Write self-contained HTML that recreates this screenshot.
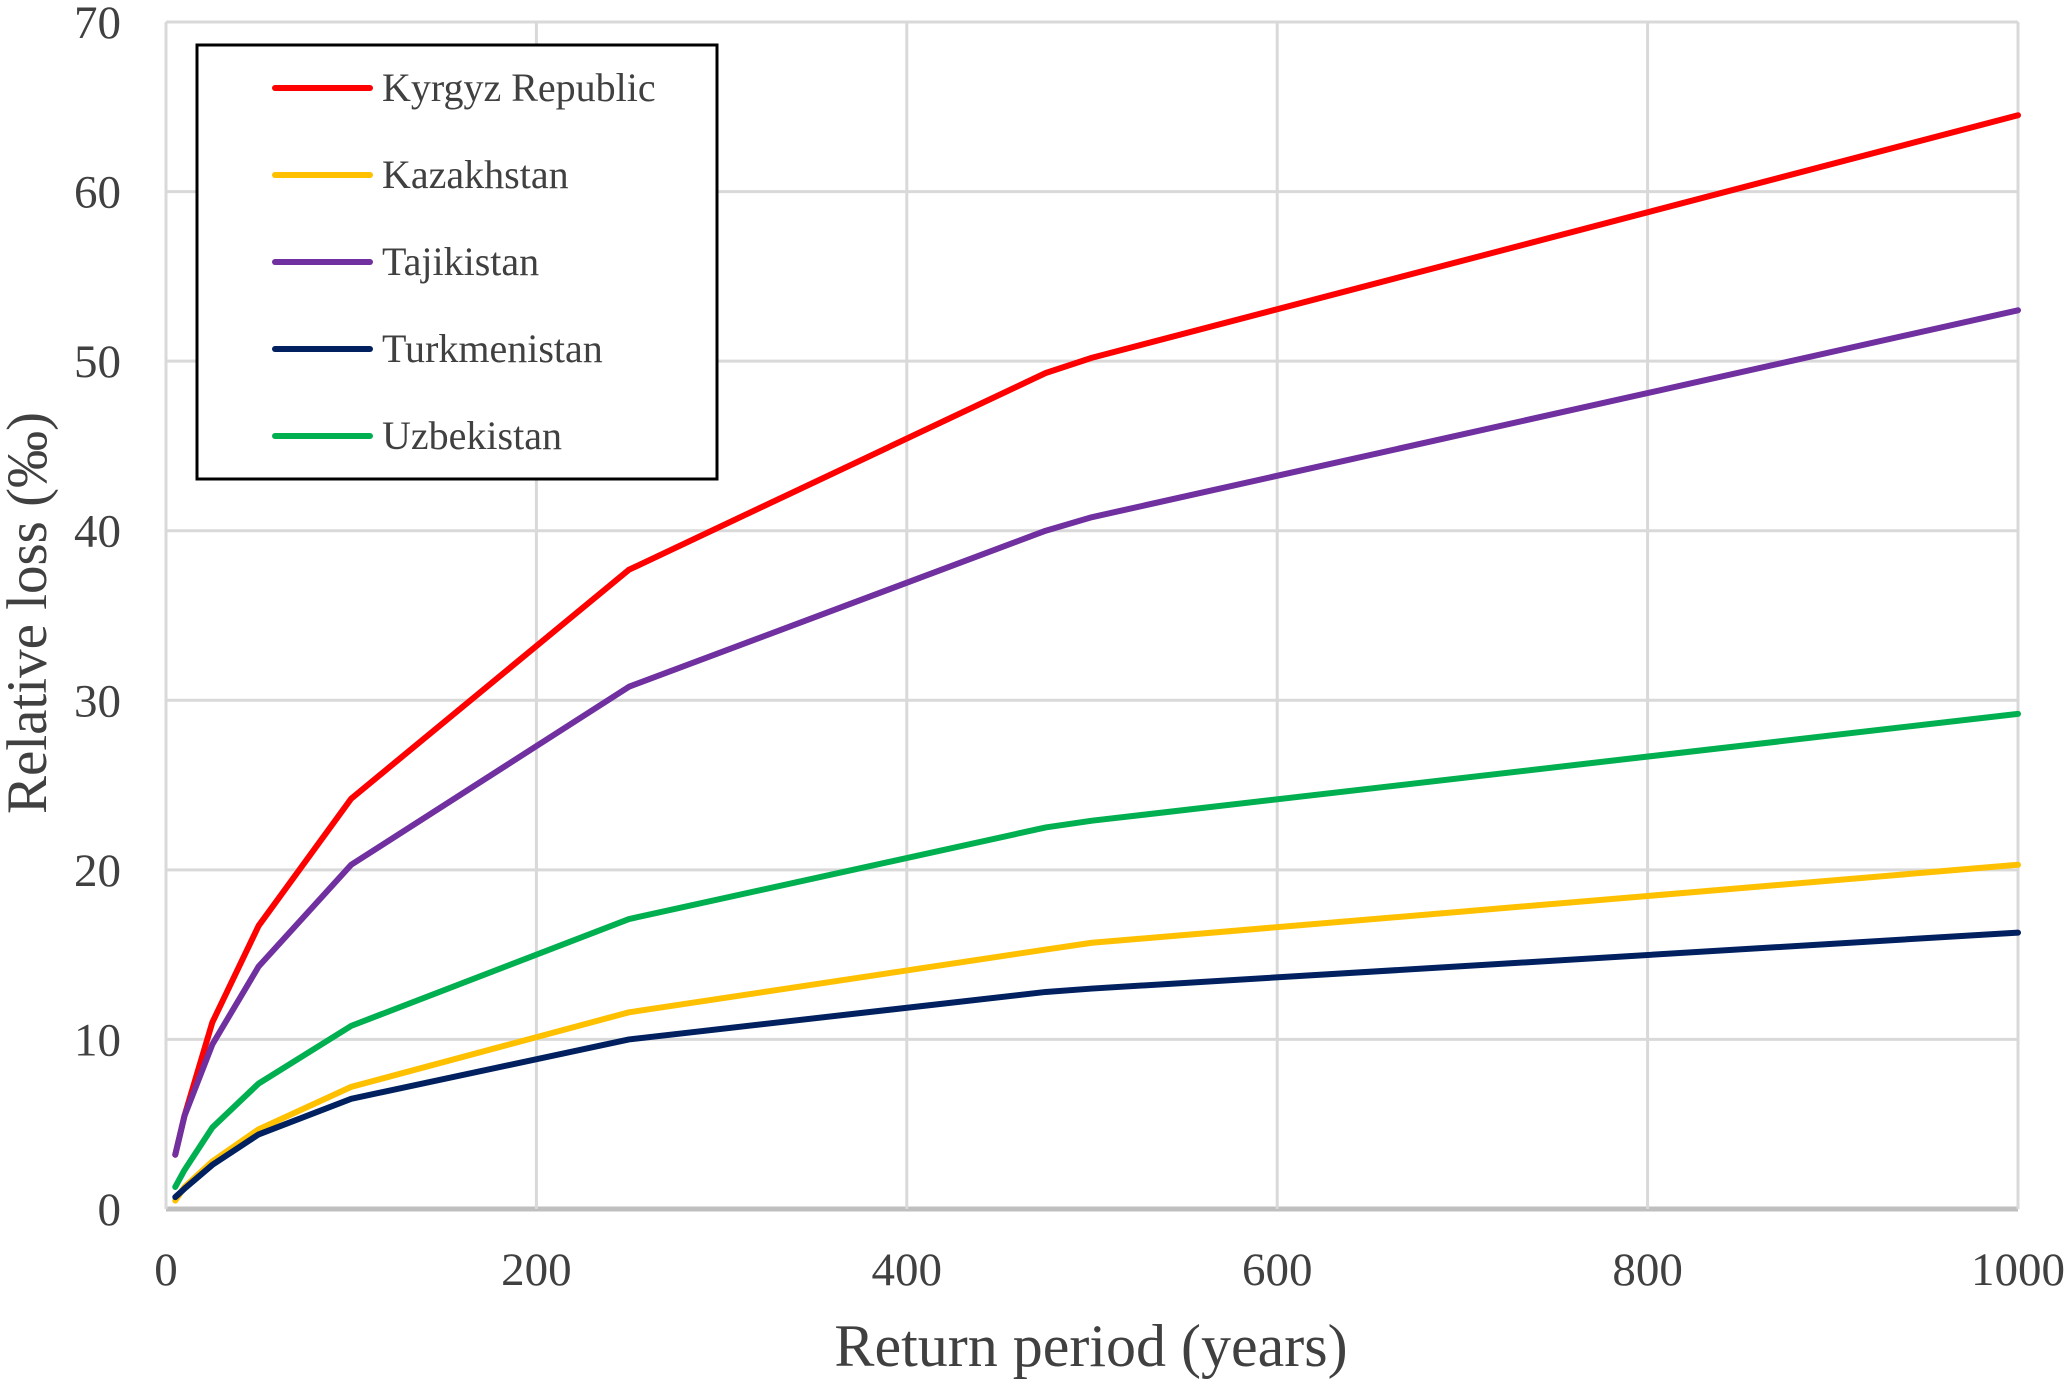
<!DOCTYPE html>
<html><head><meta charset="utf-8"><style>
html,body{margin:0;padding:0;background:#fff}
svg text{font-family:"Liberation Serif",serif;fill:#404040}
</style></head><body>
<svg id="chart" width="2067" height="1381" xmlns="http://www.w3.org/2000/svg">
<g id="grid"></g>
<g id="series"></g>
<g id="ticks"></g>
<text x="0" y="0" font-size="57" text-anchor="middle" transform="translate(46,613) rotate(-90)">Relative loss (‰)</text>
<text x="1091" y="1366" font-size="60" text-anchor="middle">Return period (years)</text>
<g id="legend">
<rect x="197" y="45" width="520" height="434" fill="#fff" stroke="#000" stroke-width="3"/>
</g>
</svg>
<script>
const periods=[5,10,25,50,100,250,475,500,1000];
const kyrgyz=[3.2,5.5,11.0,16.7,24.2,37.7,49.3,50.2,64.5];
const kazakh=[0.5,1.3,2.8,4.7,7.2,11.6,15.3,15.7,20.3];
const tajik=[3.2,5.5,9.7,14.3,20.3,30.8,40.0,40.8,53.0];
const turkmen=[0.7,1.2,2.6,4.4,6.5,10.0,12.8,13.0,16.3];
const uzbek=[1.3,2.3,4.8,7.4,10.8,17.1,22.5,22.9,29.2];
const xTicks=[0,200,400,600,800,1000];
const yTicks=[0,10,20,30,40,50,60,70];
const names=["Kyrgyz Republic","Kazakhstan","Tajikistan","Turkmenistan","Uzbekistan"];
const seriesData=[kyrgyz,kazakh,tajik,turkmen,uzbek];
const colors=["#ff0000","#ffc000","#7030a0","#002060","#00b050"];
const X0=166,X1=2018,Y0=1209,Y1=22;
const sx=v=>X0+(v-0)/(1000-0)*(X1-X0);
const sy=v=>Y0-(v-0)/(70-0)*(Y0-Y1);
const NS="http://www.w3.org/2000/svg";
function mk(tag,attrs,parent){const e=document.createElementNS(NS,tag);for(const k in attrs)e.setAttribute(k,attrs[k]);parent.appendChild(e);return e;}
const grid=document.getElementById('grid'),ticks=document.getElementById('ticks');
yTicks.forEach(t=>{
  const l=mk('line',{x1:X0,x2:X1,y1:sy(t),y2:sy(t),stroke:t===0?'#bfbfbf':'#d9d9d9','stroke-width':t===0?5:3},grid);
  
  
  const tx=mk('text',{x:121,y:sy(t)+16,'font-size':47,'text-anchor':'end'},ticks);tx.textContent=t;
  
  
});
xTicks.forEach(t=>{
  const l=mk('line',{x1:sx(t),x2:sx(t),y1:Y1,y2:Y0,stroke:'#d9d9d9','stroke-width':3},grid);
  
  
  const tx=mk('text',{x:sx(t),y:1285,'font-size':47,'text-anchor':'middle'},ticks);tx.textContent=t;
  
  
});
const sg=document.getElementById('series');
seriesData.forEach((arr,i)=>{
  const pts=arr.map((v,j)=>sx(periods[j])+','+sy(v)).join(' ');
  const p=mk('polyline',{points:pts,fill:'none',stroke:colors[i],'stroke-width':6,'stroke-linejoin':'round','stroke-linecap':'round'},sg);
  
  
});
const lg=document.getElementById('legend');
names.forEach((n,i)=>{
  const y=88+i*87;
  const l=mk('line',{x1:275,x2:370,y1:y,y2:y,stroke:colors[i],'stroke-width':6,'stroke-linecap':'round'},lg);
  
  
  const t=mk('text',{x:382,y:y+13,'font-size':40},lg);t.textContent=n;
  
  
});
</script>
</body></html>
